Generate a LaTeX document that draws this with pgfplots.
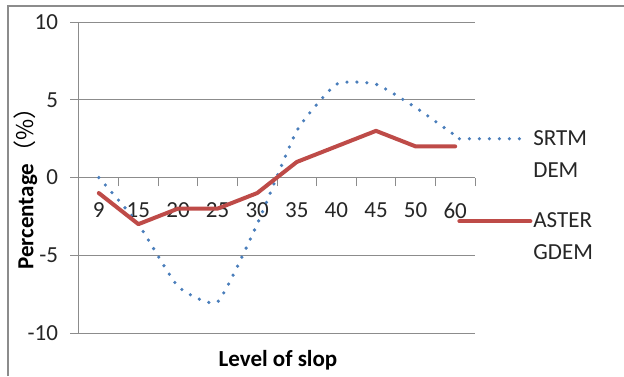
\documentclass[border=0pt]{standalone}
\usepackage{pgfplots}
\pgfplotsset{compat=1.18}
\usepackage{fontspec}
\setmainfont{Carlito}
\newfontfamily\cjk{Noto Sans CJK SC}
\definecolor{srtm}{HTML}{4A7EBB}
\definecolor{aster}{HTML}{BE4B48}
\definecolor{gridc}{HTML}{8C8C8C}
\begin{document}
\begin{tikzpicture}[x=1pt,y=1pt]
\useasboundingbox (0,0) rectangle (624,-376);
\draw[gridc, line width=2pt] (8,-376) -- (8,-6) -- (624,-6);
\begin{axis}[
  at={(79pt,-333pt)}, anchor=south west,
  scale only axis, width=396pt, height=311pt,
  xmin=-0.5, xmax=9.5, ymin=-10, ymax=10,
  axis y line=left, axis x line=middle,
  hide obscured x ticks=false, hide obscured y ticks=false,
  axis line style={gridc, line width=1pt, -},
  tick align=outside,
  major tick length=8.5pt,
  tick style={gridc, line width=1pt},
  xtick={-0.5,0.5,...,9.5},
  x tick label as interval,
  xticklabels={9,15,20,25,30,35,40,45,50,60},
  ytick={-10,-5,0,5,10},
  yticklabels={-10,-5,0,5,10},
  ymajorgrids,
  grid style={gridc, line width=1pt},
  ticklabel style={font=\fontsize{23}{27}\selectfont, text=black!85},
  xticklabel style={yshift=-13pt},
  yticklabel style={xshift=-9pt},
  every axis y label/.style={at={(axis description cs:-0.135,0.482)}, rotate=90, anchor=center},
  every axis x label/.style={at={(axis description cs:0.5025,-0.087)}, anchor=center},
  ylabel={\fontsize{23}{27}\selectfont\textbf{Percentage}{\cjk （\%）}},
  xlabel={\fontsize{23}{27}\selectfont\textbf{Level of slop}},
  legend style={at={(axis description cs:0.955,0.655)}, anchor=north west,
    draw=none, fill=none, inner sep=0pt, row sep=32pt,
    font=\fontsize{23}{32}\selectfont,
    nodes={align=left, inner sep=1pt, text=black!85}},
  legend cell align=left,
]
\addplot[srtm, line width=3.6pt, line cap=round, dash pattern=on 0pt off 10pt, smooth, tension=0.3,
  legend image code/.code={\draw[srtm, line width=3.6pt, line cap=round, dash pattern=on 0pt off 10pt] (0pt,16pt) -- (64pt,16pt);}]
  coordinates {(0,0) (1,-3) (2,-7) (3,-8) (4,-3) (5,3) (6,6) (7,6) (8,4.5) (9,2.7)};
\addlegendentry{SRTM\\DEM}
\addplot[aster, line width=4pt, line join=round, line cap=round,
  legend image code/.code={\draw[aster, line width=4pt, line cap=round] (0pt,16pt) -- (71pt,16pt);}]
  coordinates {(0,-1) (1,-3) (2,-2) (3,-2) (4,-1) (5,1) (6,2) (7,3) (8,2) (9,2)};
\addlegendentry{ASTER\\GDEM}
\end{axis}
\end{tikzpicture}
\end{document}
